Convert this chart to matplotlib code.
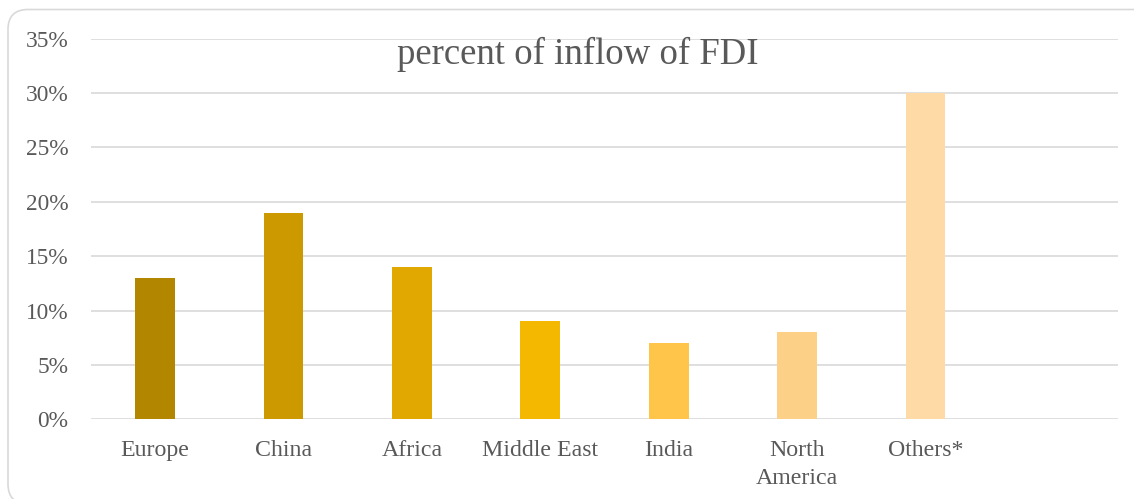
import matplotlib
matplotlib.use("Agg")
import matplotlib.pyplot as plt
from matplotlib.patches import FancyBboxPatch
from matplotlib.ticker import FuncFormatter

regions = ["Europe", "China", "Africa", "Middle East", "India", "North\nAmerica", "Others*"]
shares = [0.13, 0.19, 0.14, 0.09, 0.07, 0.08, 0.30]
colors = ["#B38600", "#CC9900", "#E0A800", "#F5B800", "#FFC44A", "#FDD088", "#FEDBA6"]

plt.rcParams['font.family'] = ['Liberation Serif', 'DejaVu Serif']
grey = "#595959"

fig = plt.figure(figsize=(11.34, 4.99), dpi=100)
ax = fig.add_axes([0.0801, 0.1597, 0.9059, 0.7631])

x = list(range(len(regions)))
ax.bar(x, shares, width=0.31, color=colors, zorder=3)

ax.set_xlim(-0.5, len(regions) + 0.5)
ax.set_ylim(0, 0.35)
ax.set_yticks([0, 0.05, 0.10, 0.15, 0.20, 0.25, 0.30, 0.35])
ax.yaxis.set_major_formatter(FuncFormatter(lambda v, p: "%d%%" % round(v * 100)))
ax.set_xticks(x)
ax.set_xticklabels(regions, linespacing=1.45)

ax.grid(axis='y', color="#D9D9D9", linewidth=1.2, zorder=0)
for s in ax.spines.values():
    s.set_visible(False)
ax.tick_params(axis='both', length=0, colors=grey)
ax.tick_params(axis='x', pad=15, labelsize=17.2)
ax.tick_params(axis='y', pad=16, labelsize=16.8)

fig.text(0.5097, 0.89, "percent of inflow of FDI", ha='center', va='center',
         fontsize=26.5, color=grey)

# rounded frame, runs off the right and bottom edge like the original
border = FancyBboxPatch((8, -5), 1150, 494.5, boxstyle="round,pad=0,rounding_size=20",
                        transform=None, facecolor='none', edgecolor="#D9D9D9",
                        linewidth=1.2)
fig.patches.append(border)

fig.savefig("out.png", dpi=100)
